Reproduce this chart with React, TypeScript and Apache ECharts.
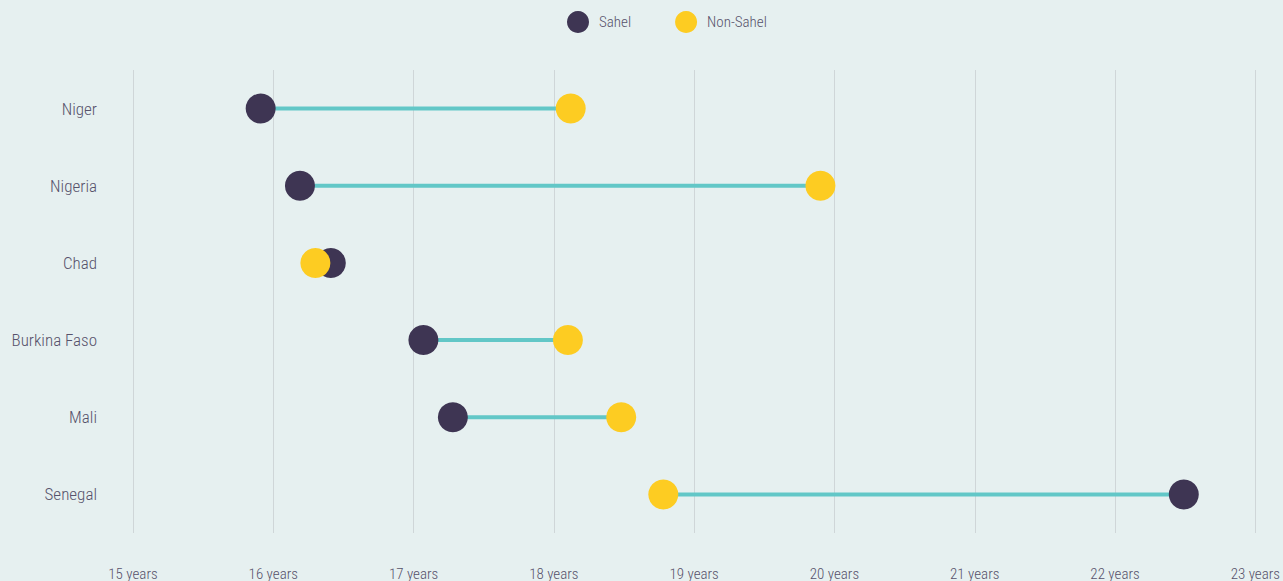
import React, { useEffect, useRef } from "react";
import * as echarts from "echarts";

const countries = ["Niger", "Nigeria", "Chad", "Burkina Faso", "Mali", "Senegal"];
const sahel = [15.91, 16.19, 16.41, 17.07, 17.28, 22.49];
const nonSahel = [18.12, 19.9, 16.3, 18.1, 18.48, 18.78];
const xTicks = [15, 16, 17, 18, 19, 20, 21, 22, 23];

const FONT = "'Roboto Condensed', 'Liberation Sans Narrow', 'Arial Narrow', Roboto, sans-serif";
const TEXT = "#57526b";

export default function App() {
  const ref = useRef<HTMLDivElement>(null);
  useEffect(() => {
    const chart = echarts.init(ref.current!, null, { renderer: "svg" });
    const lineData = countries.map((c, i) => [sahel[i], nonSahel[i], c]);
    chart.setOption({
      animation: false,
      backgroundColor: "#e6f0f0",
      textStyle: { fontFamily: FONT },
      legend: {
        top: 6,
        left: 562,
        itemWidth: 22,
        itemHeight: 22,
        itemGap: 44,
        icon: "circle",
        textStyle: { color: TEXT, fontSize: 15, fontFamily: FONT, fontWeight: 300, padding: [0, 0, 0, 5] },
        data: ["Sahel", "Non-Sahel"],
      },
      grid: { left: 133, right: 21, top: 70, bottom: 46, containLabel: false },
      xAxis: {
        type: "value",
        min: xTicks[0],
        max: xTicks[xTicks.length - 1],
        interval: 1,
        axisLine: { show: false },
        axisTick: { show: false },
        splitLine: { show: true, lineStyle: { color: "#cfd6d8", width: 1 } },
        axisLabel: {
          color: TEXT,
          fontSize: 15,
          fontWeight: 300,
          fontFamily: FONT,
          margin: 33,
          formatter: (v: number) => `${v} years`,
        },
      },
      yAxis: {
        type: "category",
        data: countries,
        inverse: true,
        axisLine: { show: false },
        axisTick: { show: false },
        splitLine: { show: false },
        axisLabel: { color: TEXT, fontSize: 17, fontWeight: 300, fontFamily: FONT, margin: 36 },
      },
      series: [
        {
          type: "custom",
          name: "connector",
          silent: true,
          encode: { x: [0, 1], y: 2 },
          renderItem: (params: any, api: any) => {
            const a = api.coord([api.value(0), api.value(2)]);
            const b = api.coord([api.value(1), api.value(2)]);
            return {
              type: "line",
              shape: { x1: a[0], y1: a[1], x2: b[0], y2: b[1] },
              style: { stroke: "#62c7c7", lineWidth: 4 },
            };
          },
          data: lineData,
          z: 1,
        },
        {
          type: "scatter",
          name: "Sahel",
          symbolSize: 30,
          itemStyle: { color: "#3e3553", opacity: 1 },
          data: countries.map((c, i) => [sahel[i], c]),
          z: 2,
        },
        {
          type: "scatter",
          name: "Non-Sahel",
          symbolSize: 30,
          itemStyle: { color: "#fdcc22", opacity: 1 },
          data: countries.map((c, i) => [nonSahel[i], c]),
          z: 3,
        },
      ],
    });
    return () => chart.dispose();
  }, []);
  return <div ref={ref} style={{ width: 1283, height: 581, position: "fixed", left: 0, top: 0 }} />;
}
